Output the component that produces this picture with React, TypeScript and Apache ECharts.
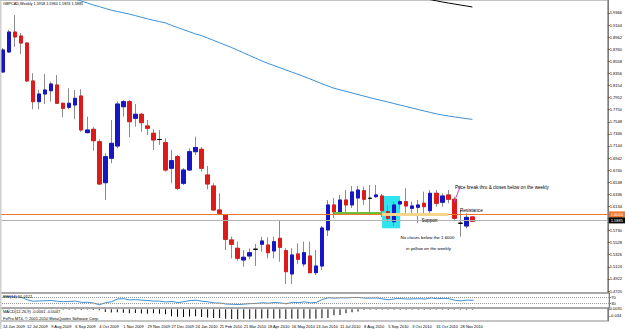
import React, { useEffect, useRef } from 'react';
import * as echarts from 'echarts';

const dateLabels = ['14 Jun 2009', '12 Jul 2009', '9 Aug 2009', '6 Sep 2009', '4 Oct 2009', '1 Nov 2009', '29 Nov 2009', '27 Dec 2009', '24 Jan 2010', '21 Feb 2010', '21 Mar 2010', '18 Apr 2010', '16 May 2010', '13 Jun 2010', '11 Jul 2010', '8 Aug 2010', '5 Sep 2010', '3 Oct 2010', '31 Oct 2010', '28 Nov 2010'];

const opens = [1.8380, 1.8714, 1.9048, 1.8981, 1.8864, 1.8230, 1.7884, 1.8012, 1.8067, 1.8163, 1.7857, 1.7790, 1.7828, 1.7979, 1.7366, 1.7422, 1.7215, 1.6530, 1.6938, 1.7143, 1.7800, 1.7884, 1.7606, 1.7673, 1.7478, 1.7356, 1.7252, 1.7199, 1.6771, 1.6965, 1.6520, 1.6742, 1.7048, 1.7088, 1.6659, 1.6475, 1.6074, 1.5990, 1.5573, 1.5434, 1.5238, 1.5305, 1.5417, 1.5501, 1.5489, 1.5389, 1.5601, 1.5394, 1.5005, 1.5339, 1.5172, 1.5305, 1.5026, 1.5138, 1.5740, 1.6158, 1.6041, 1.6241, 1.6158, 1.6274, 1.6396, 1.6269, 1.6296, 1.6308, 1.6046, 1.5878, 1.6174, 1.6213, 1.6102, 1.6119, 1.6186, 1.6062, 1.6353, 1.6203, 1.6325, 1.6253, 1.5852, 1.5806, 1.5958];
const closes = [1.8748, 1.9048, 1.8965, 1.8864, 1.8230, 1.7884, 1.8012, 1.8079, 1.8179, 1.7857, 1.7773, 1.7857, 1.7940, 1.7411, 1.7411, 1.7232, 1.6508, 1.6965, 1.7188, 1.7845, 1.7884, 1.7549, 1.7673, 1.7533, 1.7439, 1.7244, 1.7252, 1.6742, 1.6898, 1.6436, 1.6742, 1.7048, 1.7118, 1.6771, 1.6508, 1.6074, 1.6019, 1.5584, 1.5501, 1.5267, 1.5284, 1.5360, 1.5417, 1.5556, 1.5360, 1.5544, 1.5450, 1.5043, 1.5322, 1.5250, 1.5360, 1.5026, 1.5138, 1.5773, 1.6158, 1.6041, 1.6241, 1.6158, 1.6375, 1.6408, 1.6253, 1.6269, 1.6325, 1.6062, 1.5935, 1.6158, 1.6213, 1.6141, 1.6141, 1.6158, 1.6129, 1.6353, 1.6186, 1.6308, 1.6253, 1.5935, 1.5852, 1.5951, 1.5885];
const lows = [1.8363, 1.8697, 1.8798, 1.8681, 1.8213, 1.7757, 1.7757, 1.7845, 1.7884, 1.7845, 1.7623, 1.7757, 1.7590, 1.7382, 1.7356, 1.7065, 1.6492, 1.6241, 1.6854, 1.7105, 1.7633, 1.7289, 1.7466, 1.7382, 1.7327, 1.7077, 1.7160, 1.6714, 1.6520, 1.6408, 1.6492, 1.6731, 1.6993, 1.6714, 1.6420, 1.6057, 1.6007, 1.5405, 1.5267, 1.5227, 1.5126, 1.5250, 1.5138, 1.5377, 1.5267, 1.5267, 1.5210, 1.4837, 1.4837, 1.5172, 1.5126, 1.5016, 1.4988, 1.5071, 1.5639, 1.5940, 1.5990, 1.6041, 1.6107, 1.6041, 1.6158, 1.5990, 1.6274, 1.5957, 1.5874, 1.5806, 1.6091, 1.6019, 1.6019, 1.5852, 1.6019, 1.5990, 1.6129, 1.6129, 1.6186, 1.5907, 1.5627, 1.5768, 1.5874];
const highs = [1.8781, 1.9082, 1.9332, 1.9032, 1.8881, 1.8358, 1.8079, 1.8346, 1.8218, 1.8330, 1.7867, 1.8108, 1.8079, 1.8091, 1.7633, 1.7456, 1.7255, 1.7021, 1.7578, 1.7884, 1.7912, 1.7912, 1.7845, 1.7695, 1.7578, 1.7422, 1.7411, 1.7272, 1.7077, 1.6993, 1.6776, 1.7105, 1.7299, 1.7127, 1.6809, 1.6520, 1.6353, 1.6007, 1.5628, 1.5544, 1.5405, 1.5434, 1.5506, 1.5628, 1.5618, 1.5628, 1.5907, 1.5434, 1.5434, 1.5517, 1.5544, 1.5544, 1.5405, 1.5806, 1.6241, 1.6274, 1.6325, 1.6408, 1.6475, 1.6475, 1.6463, 1.6492, 1.6492, 1.6341, 1.6158, 1.6213, 1.6241, 1.6436, 1.6213, 1.6241, 1.6380, 1.6408, 1.6408, 1.6353, 1.6408, 1.6296, 1.6074, 1.6019, 1.5960];

const maBlue = ['-', '-', '-', '-', '-', '-', '-', '-', '-', '-', '-', 1.9635, 1.9600, 1.9566, 1.9533, 1.9499, 1.9473, 1.9441, 1.9413, 1.9391, 1.9369, 1.9347, 1.9322, 1.9294, 1.9269, 1.9244, 1.9222, 1.9200, 1.9159, 1.9123, 1.9087, 1.9052, 1.9015, 1.8988, 1.8948, 1.8908, 1.8868, 1.8828, 1.8788, 1.8743, 1.8699, 1.8654, 1.8610, 1.8565, 1.8524, 1.8488, 1.8452, 1.8415, 1.8378, 1.8342, 1.8303, 1.8265, 1.8225, 1.8183, 1.8146, 1.8109, 1.8082, 1.8056, 1.8029, 1.8002, 1.7977, 1.7950, 1.7925, 1.7902, 1.7877, 1.7852, 1.7827, 1.7802, 1.7778, 1.7753, 1.7728, 1.7705, 1.7681, 1.7661, 1.7645, 1.7630, 1.7615, 1.7601, 1.7588];
const maBlack = ['-', '-', '-', '-', '-', '-', '-', '-', '-', '-', '-', '-', '-', '-', '-', '-', '-', '-', '-', '-', '-', '-', '-', '-', '-', '-', '-', '-', '-', '-', '-', '-', '-', '-', '-', '-', '-', '-', '-', '-', '-', '-', '-', '-', '-', '-', '-', '-', '-', '-', '-', '-', '-', '-', '-', '-', '-', '-', '-', '-', '-', '-', '-', '-', '-', '-', '-', '-', '-', '-', 1.9606, 1.9590, 1.9570, 1.9550, 1.9533, 1.9516, 1.9499, 1.9483, 1.9466];

const rsi = [74, 76, 74, 72, 55, 45, 47, 48, 50, 45, 42, 44, 46, 38, 38, 33, 22, 35, 42, 60, 62, 54, 56, 52, 50, 46, 46, 40, 44, 36, 42, 50, 52, 45, 41, 34, 33, 26, 25, 23, 26, 29, 31, 35, 32, 37, 34, 28, 38, 36, 41, 34, 38, 58, 68, 66, 68, 67, 70, 70, 66, 66, 67, 60, 55, 62, 63, 60, 61, 62, 60, 67, 62, 64, 62, 50, 48, 53, 51];
const macd = [-0.001, -0.001, -0.001, -0.001, -0.001, -0.001, -0.001, -0.001, -0.001, -0.001, -0.002, -0.002, -0.002, -0.003, -0.002, -0.003, -0.004, -0.014, -0.016, -0.015, -0.018, -0.02, -0.019, -0.021, -0.022, -0.02, -0.023, -0.025, -0.035, -0.038, -0.04, -0.037, -0.036, -0.039, -0.042, -0.045, -0.044, -0.048, -0.05, -0.051, -0.049, -0.05, -0.048, -0.047, -0.046, -0.048, -0.047, -0.05, -0.049, -0.048, -0.047, -0.049, -0.048, -0.046, -0.045, -0.03, -0.029, -0.02, -0.015, -0.011, -0.003, -0.002, -0.002, -0.002, -0.002, -0.002, -0.002, -0.002, -0.002, -0.002, -0.002, -0.002, -0.002, -0.002, -0.002, -0.002, -0.002, -0.002, -0.002];

const priceTicks = [1.4720, 1.4922, 1.5124, 1.5326, 1.5528, 1.5730, 1.5932, 1.6134, 1.6336, 1.6538, 1.6740, 1.6942, 1.7144, 1.7346, 1.7548, 1.7750, 1.7952, 1.8154, 1.8356, 1.8558, 1.8760, 1.8962, 1.9164, 1.9366];
const rsiTicks = [70, 30];
const macdTicks = [0.0031, -0.034];

const resistance = 1.6020;
const bid = 1.5885;
const yellowLevel = 1.6000;
const greenLevel = 1.6030;

const N = 101;
const FONT = 'Liberation Sans, Arial, sans-serif';

export default function App() {
  const ref = useRef<HTMLDivElement>(null);
  useEffect(() => {
    if (!ref.current) return;
    const chart = echarts.init(ref.current, undefined, { renderer: 'svg' });
    const cats = Array.from({ length: N }, (_, i) => String(i));
    const wickData = opens.map((o, i) => [o, closes[i], lows[i], highs[i]]);
    const bodyData = opens.map((o, i) => [o, closes[i], Math.min(o, closes[i]), Math.max(o, closes[i])]);
    const GL = -1.3;
    const GW = 610.5;
    const xAx = (g: number) => ({
      type: 'category', gridIndex: g, data: cats, boundaryGap: true,
      axisLine: { show: false }, axisTick: { show: false }, splitLine: { show: false },
      axisLabel: g === 2 ? {
        show: true, interval: 0, align: 'left', margin: 3, fontSize: 4, color: '#000', fontFamily: FONT,
        formatter: (_v: string, idx: number) => (idx % 4 === 0 && idx / 4 < dateLabels.length ? dateLabels[idx / 4] : ''),
      } : { show: false },
    });
    const yBase = {
      position: 'right', splitLine: { show: false },
      axisLine: { show: true, lineStyle: { color: '#7a7a7a', width: 1 } },
    };
    const segStyle = (c: string, w: number) => ({ color: c, width: w, type: 'solid' });
    chart.setOption({
      animation: false,
      backgroundColor: '#ffffff',
      textStyle: { fontFamily: FONT },
      grid: [
        { left: GL, width: GW, top: 0, height: 293, show: true, borderColor: '#8a8a8a', borderWidth: 1 },
        { left: GL, width: GW, top: 293, height: 15, show: true, borderColor: '#8a8a8a', borderWidth: 1 },
        { left: GL, width: GW, top: 308, height: 13, show: true, borderColor: '#8a8a8a', borderWidth: 1 },
      ],
      xAxis: [xAx(0), xAx(1), xAx(2)],
      yAxis: [
        {
          ...yBase, type: 'value', gridIndex: 0, min: 1.46866, max: 1.9583,
          axisTick: { show: true, length: 2, customValues: priceTicks, lineStyle: { color: '#555' } },
          axisLabel: { customValues: priceTicks, fontSize: 4, color: '#000', margin: 2, fontFamily: FONT, formatter: (v: number) => v.toFixed(4) },
        },
        {
          ...yBase, type: 'value', gridIndex: 1, min: 0, max: 100,
          axisTick: { show: true, length: 2, customValues: rsiTicks },
          axisLabel: { customValues: rsiTicks, fontSize: 4, color: '#000', margin: 2, fontFamily: FONT },
        },
        {
          ...yBase, type: 'value', gridIndex: 2, min: -0.060, max: 0.007,
          axisTick: { show: true, length: 2, customValues: macdTicks },
          axisLabel: { customValues: macdTicks, fontSize: 4, color: '#000', margin: 2, fontFamily: FONT },
        },
      ],
      series: [
        {
          type: 'line', xAxisIndex: 0, yAxisIndex: 0, data: [], silent: true, z: 1,
          markArea: {
            silent: true,
            itemStyle: { color: '#2FE3F0', opacity: 1 },
            data: [[{ coord: [62.9, 1.6308] }, { coord: [65.8, 1.5768] }]],
          },
        },
        {
          type: 'candlestick', name: 'wick', xAxisIndex: 0, yAxisIndex: 0, data: wickData, barWidth: 4, z: 2,
          itemStyle: { color: '#8c8c8c', color0: '#8c8c8c', borderColor: '#8c8c8c', borderColor0: '#8c8c8c', borderColorDoji: '#8c8c8c', borderWidth: 1 },
        },
        {
          type: 'candlestick', name: 'body', xAxisIndex: 0, yAxisIndex: 0, data: bodyData, barWidth: 4, z: 3,
          itemStyle: { color: '#1616C8', color0: '#DE1A1A', borderColor: '#1616C8', borderColor0: '#DE1A1A', borderColorDoji: '#000000', borderWidth: 1 },
          markLine: {
            silent: true, symbol: ['none', 'none'], animation: false,
            data: [
              {
                yAxis: resistance, lineStyle: segStyle('#F0762E', 1),
                label: { show: true, position: 'end', distance: 1, formatter: resistance.toFixed(4), backgroundColor: '#F0762E', color: '#fff', fontSize: 4, padding: [1, 2, 1, 2], fontFamily: FONT },
              },
              {
                yAxis: bid, lineStyle: segStyle('#B4B4B4', 1),
                label: { show: true, position: 'end', distance: 1, formatter: bid.toFixed(4), backgroundColor: '#000', color: '#fff', fontSize: 4, padding: [1, 2, 1, 2], fontFamily: FONT },
              },
              [{ coord: [55, greenLevel], lineStyle: segStyle('#6DBF3A', 2), label: { show: false } }, { coord: [63.1, greenLevel] }],
              [{ coord: [63.1, yellowLevel], lineStyle: segStyle('#F4D58C', 3), label: { show: false } }, { coord: [73.9, yellowLevel] }],
              [{ coord: [75.9, 1.6475], lineStyle: segStyle('#E040E0', 1), label: { show: false } }, { coord: [75.1, 1.6208] }],
            ],
          },
        },
        {
          type: 'line', xAxisIndex: 0, yAxisIndex: 0, data: maBlue, symbol: 'none', clip: true, z: 4,
          lineStyle: { color: '#3B8FD6', width: 1 }, silent: true,
        },
        {
          type: 'line', xAxisIndex: 0, yAxisIndex: 0, data: maBlack, symbol: 'none', clip: true, z: 4,
          lineStyle: { color: '#000', width: 1 }, silent: true,
        },
        {
          type: 'line', xAxisIndex: 1, yAxisIndex: 1, data: rsi, symbol: 'none', clip: true, z: 4,
          lineStyle: { color: '#3B8FD6', width: 1 }, silent: true,
          markLine: {
            silent: true, symbol: ['none', 'none'], label: { show: false },
            lineStyle: { color: '#9a9a9a', type: 'dotted', width: 1 },
            data: rsiTicks.map((v) => ({ yAxis: v })),
          },
        },
        {
          type: 'bar', xAxisIndex: 2, yAxisIndex: 2, data: macd, barWidth: 1, silent: true,
          itemStyle: { color: '#000' },
        },
      ],
      graphic: [
        { type: 'rect', left: 0, top: 0, shape: { width: 1.5, height: 329 }, style: { fill: '#cfcfcf' }, z: 100 },
        { type: 'text', left: 3, top: 2, z: 100, style: { text: 'GBPCAD,Weekly 1.5958 1.5960 1.5874 1.5885', fill: '#000', font: `3.8px ${FONT}` } },
        { type: 'text', left: 3, top: 294.5, z: 100, style: { text: 'RSI(14) 51.0521', fill: '#000', font: `4px ${FONT}` } },
        { type: 'text', left: 3, top: 309, z: 100, style: { text: 'MACD(12,26,9) -0.0061 -0.0047', fill: '#000', font: `4px ${FONT}` } },
        { type: 'text', left: 3, top: 316.5, z: 100, style: { text: 'FxPro MT4, © 2001-2010 MetaQuotes Software Corp.', fill: '#000', font: `4px ${FONT}` } },
        { type: 'text', left: 455, top: 184.5, z: 100, style: { text: 'Price break thru & closes below on the weekly', fill: '#000', font: `4.6px ${FONT}` } },
        { type: 'text', left: 460, top: 208.3, z: 100, style: { text: 'Resistance', fill: '#000', font: `4.6px ${FONT}` } },
        { type: 'text', left: 421.5, top: 218.3, z: 100, style: { text: 'Support', fill: '#000', font: `4.6px ${FONT}` } },
        { type: 'text', left: 400.5, top: 235.3, z: 100, style: { text: 'No closes below the 1.6000', fill: '#000', font: `4.4px ${FONT}` } },
        { type: 'text', left: 406, top: 246, z: 100, style: { text: 'in yellow on the weekly', fill: '#000', font: `4.4px ${FONT}` } },
      ],
    });
    return () => chart.dispose();
  }, []);
  return <div ref={ref} style={{ position: 'fixed', left: 0, top: 0, width: 625, height: 329, background: '#fff' }} />;
}
